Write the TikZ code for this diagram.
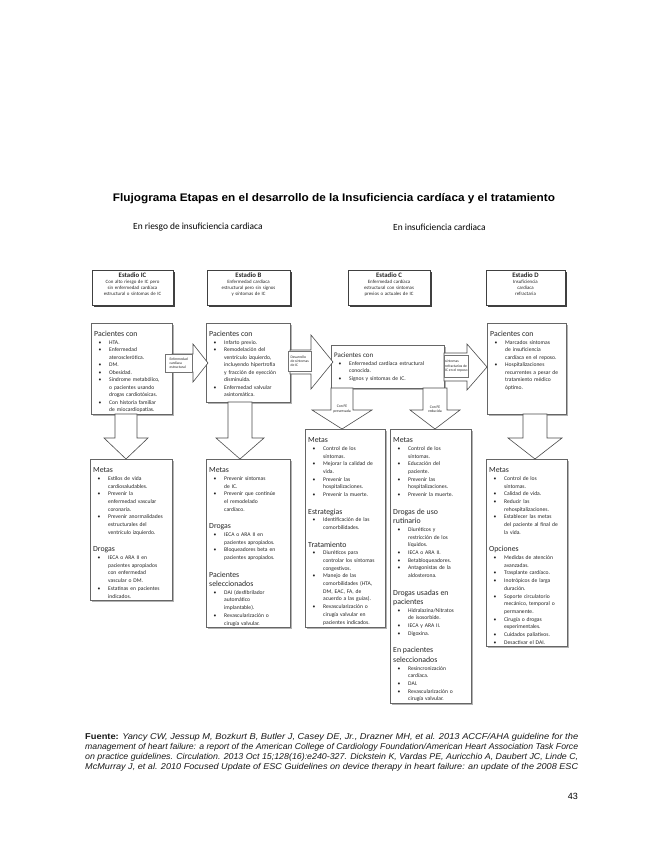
\documentclass[tikz,border=0pt]{standalone}
\usepackage{fontspec}
\setmainfont{Carlito}
\newfontfamily\arialf{Liberation Sans}
\usetikzlibrary{shadows}
\newlength\bulind\setlength\bulind{15pt}
\newlength\bulpos\setlength\bulpos{4.5pt}
\newcommand\bul[1]{\par\noindent\hangindent=\bulind\hangafter=1\makebox[\bulind][l]{\hspace{\bulpos}\textbullet}#1\par}
\newcommand\hd[1]{\par\noindent{\fontsize{7.8}{9.5}\selectfont #1\par}}
\newcommand\sgap{\par\vspace{8pt}}
\newcommand\harrow[6]{\draw[barrow] (#1,#2-#5) -- (#3,#2-#5) -- (#3,#2-#6) -- (#4,#2) -- (#3,#2+#6) -- (#3,#2+#5) -- (#1,#2+#5) -- cycle;}
\newcommand\varrow[6]{\draw[barrow] (#1-#5,#2) -- (#1-#5,#3) -- (#1-#6,#3) -- (#1,#4) -- (#1+#6,#3) -- (#1+#5,#3) -- (#1+#5,#2) -- cycle;}
\tikzset{
 stagebox/.style={draw=black!75, line width=0.6pt, fill=white, inner sep=0pt, anchor=north west, drop shadow={shadow xshift=1.6pt, shadow yshift=-1.6pt, fill=black!75, opacity=1}},
 panel/.style={draw=black!60, line width=0.6pt, fill=white, inner sep=0pt, anchor=north west, drop shadow={shadow xshift=1.4pt, shadow yshift=-1.4pt, fill=black!30, opacity=1}},
 barrow/.style={draw=black!70, line width=0.6pt, fill=white, line join=miter},
 bodytxt/.style={anchor=north west, inner sep=0pt, align=left, text=black!85, font=\fontsize{5.6}{7.7}\selectfont},
 pactxt/.style={bodytxt, font=\fontsize{5.6}{7.5}\selectfont},
 stagetxt/.style={anchor=north, inner sep=0pt, align=center, text=black!85, font=\fontsize{4.9}{5.9}\selectfont},
 lbl/.style={draw=black!55, fill=white, inner sep=1pt, anchor=north west, align=left, text=black!85, font=\fontsize{3.7}{4.3}\selectfont, drop shadow={shadow xshift=1pt, shadow yshift=-1pt, fill=black!40, opacity=1}},
 arrowlbl/.style={inner sep=0pt, align=center, text=black!85, font=\fontsize{3.8}{4.4}\selectfont},
 foottxt/.style={anchor=north west, inner sep=0pt, align=left, text=black!90, font=\arialf\fontsize{8.5}{10}\selectfont},
}
\begin{document}
\begin{tikzpicture}[x=1pt,y=-1pt]
\useasboundingbox (0,0) rectangle (655,848);
\fill[white] (0,0) rectangle (655,848);

% title and subtitles
\node[font=\arialf\bfseries\fontsize{11}{13}\selectfont] (title) at (334,199) {\resizebox{442pt}{\height}{Flujograma Etapas en el desarrollo de la Insuficiencia cardíaca y el tratamiento}};
\node[anchor=west, inner sep=0pt, font=\fontsize{9.4}{11}\selectfont] (sub1) at (133,227) {En riesgo de insuficiencia cardiaca};
\node[anchor=west, inner sep=0pt, font=\fontsize{9.4}{11}\selectfont] (sub2) at (393,227) {En insuficiencia cardiaca};

% stage boxes
\node[stagebox, minimum width=81pt, minimum height=35pt] (sA) at (92,270) {};
\node[stagetxt, text width=79pt] (tsA) at (132.5,272.5) {{\fontsize{6.8}{8}\selectfont\bfseries Estadio IC}\\Con alto riesgo de IC pero\\sin enfermedad cardíaca\\estructural o síntomas de IC};
\node[stagebox, minimum width=83pt, minimum height=35pt] (sB) at (207,270) {};
\node[stagetxt, text width=81pt] (tsB) at (248.5,272.5) {{\fontsize{6.8}{8}\selectfont\bfseries Estadio B}\\Enfermedad cardíaca\\estructural pero sin signos\\y síntomas de IC};
\node[stagebox, minimum width=82pt, minimum height=35pt] (sC) at (348,270) {};
\node[stagetxt, text width=80pt] (tsC) at (389,272.5) {{\fontsize{6.8}{8}\selectfont\bfseries Estadio C}\\Enfermedad cardíaca\\estructural con síntomas\\previos o actuales de IC};
\node[stagebox, minimum width=79pt, minimum height=35pt] (sD) at (486,270) {};
\node[stagetxt, text width=77pt] (tsD) at (525.5,272.5) {{\fontsize{6.8}{8}\selectfont\bfseries Estadio D}\\Insuficiencia\\cardíaca\\refractaria};

% patient boxes
\node[panel, minimum width=81pt, minimum height=91pt] (pA) at (91,323) {};
\node[pactxt, text width=78pt] (tpA) at (94,327) {\hd{Pacientes con}
\bul{HTA.}
\bul{Enfermedad\newline aterosclerótica.}
\bul{DM.}
\bul{Obesidad.}
\bul{Síndrome metabólico,\newline o pacientes usando\newline drogas cardiotóxicas.}
\bul{Con historia familiar\newline de miocardiopatías.}};

\node[panel, minimum width=84pt, minimum height=79pt] (pB) at (206,323) {};
\node[pactxt, text width=81pt] (tpB) at (209,327) {\hd{Pacientes con}
\bul{Infarto previo.}
\bul{Remodelación del\newline ventrículo izquierdo,\newline incluyendo hipertrofia\newline y fracción de eyección\newline disminuida.}
\bul{Enfermedad valvular\newline asintomática.}};

\node[panel, minimum width=113pt, minimum height=43pt] (pC) at (331,345) {};
\node[pactxt, text width=110pt] (tpC) at (334,349) {\par\noindent{\fontsize{7}{8.5}\selectfont Pacientes con\par}
\bul{Enfermedad cardíaca estructural\newline conocida.}
\bul{Signos y síntomas de IC.}};

\node[panel, minimum width=79pt, minimum height=91pt] (pD) at (487,323) {};
\node[pactxt, text width=76pt] (tpD) at (490,327) {\hd{Pacientes con}
\bul{Marcados síntomas\newline de insuficiencia\newline cardíaca en el reposo.}
\bul{Hospitalizaciones\newline recurrentes a pesar de\newline tratamiento médico\newline óptimo.}};

% horizontal block arrows
\harrow{172}{363}{193}{208}{9}{19}
\node[lbl, minimum width=27pt, minimum height=18pt] (lab1) at (165,354) {Enfermedad\\cardíaca\\estructural};
\harrow{290}{362}{311}{333}{12}{27}
\node[lbl, minimum width=23pt, minimum height=20pt] (lab2) at (288,351) {Desarrollo\\de síntomas\\de IC};
\harrow{444}{367}{467}{487}{14}{23}
\node[lbl, minimum width=24pt, minimum height=22pt] (lab3) at (444,355) {síntomas\\refractarios de\\IC en el reposo};

% vertical block arrows
\varrow{126}{414}{438}{459}{11}{22}
\varrow{240}{402}{438}{459}{12}{24}
\varrow{535}{414}{438}{459}{12}{27}
\varrow{342}{388}{410}{429}{11}{30}
\varrow{435}{388}{410}{429}{12}{25}
\node[arrowlbl] (labL) at (342,409) {Con FE\\preservada};
\node[arrowlbl] (labR) at (435,409) {Con FE\\reducida};

% goal boxes
\node[panel, minimum width=82pt, minimum height=141pt] (mA) at (90,459) {};
\node[bodytxt, text width=79pt] (tmA) at (93,463) {\hd{Metas}
\bul{Estilos de vida\newline cardiosaludables.}
\bul{Prevenir la\newline enfermedad vascular\newline coronaria.}
\bul{Prevenir anormalidades\newline estructurales del\newline ventrículo izquierdo.}
\sgap\hd{Drogas}
\bul{IECA o ARA II en\newline pacientes apropiados\newline con enfermedad\newline vascular o DM.}
\bul{Estatinas en pacientes\newline indicados.}};

\node[panel, minimum width=84pt, minimum height=168pt] (mB) at (206,459) {};
\node[bodytxt, text width=81pt] (tmB) at (209,463) {\hd{Metas}
\bul{Prevenir síntomas\newline de IC.}
\bul{Prevenir que continúe\newline el remodelado\newline cardíaco.}
\sgap\hd{Drogas}
\bul{IECA o ARA II en\newline pacientes apropiados.}
\bul{Bloqueadores beta en\newline pacientes apropiados.}
\sgap\hd{Pacientes\newline seleccionados}
\bul{DAI (desfibrilador\newline automático\newline implantable).}
\bul{Revascularización o\newline cirugía valvular.}};

\node[panel, minimum width=80pt, minimum height=198pt] (mCL) at (305,429) {};
\node[bodytxt, text width=77pt] (tmCL) at (308,433) {\hd{Metas}
\bul{Control de los\newline síntomas.}
\bul{Mejorar la calidad de\newline vida.}
\bul{Prevenir las\newline hospitalizaciones.}
\bul{Prevenir la muerte.}
\sgap\hd{Estrategias}
\bul{Identificación de las\newline comorbilidades.}
\sgap\hd{Tratamiento}
\bul{Diuréticos para\newline controlar los síntomas\newline congestivos.}
\bul{Manejo de las\newline comorbilidades (HTA,\newline DM, EAC, FA, de\newline acuerdo a las guías).}
\bul{Revascularización o\newline cirugía valvular en\newline pacientes indicados.}};

\node[panel, minimum width=81pt, minimum height=274pt] (mCR) at (390,429) {};
\node[bodytxt, text width=78pt] (tmCR) at (393,433) {\hd{Metas}
\bul{Control de los\newline síntomas.}
\bul{Educación del\newline paciente.}
\bul{Prevenir las\newline hospitalizaciones.}
\bul{Prevenir la muerte.}
\sgap\hd{Drogas de uso\newline rutinario}
\bul{Diuréticos y\newline restricción de los\newline líquidos.}
\bul{IECA o ARA II.}
\bul{Betabloqueadores.}
\bul{Antagonistas de la\newline aldosterona.}
\sgap\hd{Drogas usadas en\newline pacientes}
\bul{Hidralazina/Nitratos\newline de isosorbide.}
\bul{IECA y ARA II.}
\bul{Digoxina.}
\sgap\hd{En pacientes\newline seleccionados}
\bul{Resincronización\newline cardíaca.}
\bul{DAI.}
\bul{Revascularización o\newline cirugía valvular.}};

\node[panel, minimum width=81pt, minimum height=187pt] (mD) at (486,459) {};
\node[bodytxt, text width=78pt] (tmD) at (489,463) {\hd{Metas}
\bul{Control de los\newline síntomas.}
\bul{Calidad de vida.}
\bul{Reducir las\newline rehospitalizaciones.}
\bul{Establecer las metas\newline del paciente al final de\newline la vida.}
\sgap\hd{Opciones}
\bul{Medidas de atención\newline avanzadas.}
\bul{Trasplante cardíaco.}
\bul{Inotrópicos de larga\newline duración.}
\bul{Soporte circulatorio\newline mecánico, temporal o\newline permanente.}
\bul{Cirugía o drogas\newline experimentales.}
\bul{Cuidados paliativos.}
\bul{Desactivar el DAI.}};

% footer
\node[foottxt] (foot) at (85,733) {%
\resizebox{493pt}{\height}{\textbf{Fuente:} \itshape Yancy CW, Jessup M, Bozkurt B, Butler J, Casey DE, Jr., Drazner MH, et al. 2013 ACCF/AHA guideline for the}\\
\resizebox{493pt}{\height}{\itshape management of heart failure: a report of the American College of Cardiology Foundation/American Heart Association Task Force}\\
\resizebox{493pt}{\height}{\itshape on practice guidelines. Circulation. 2013 Oct 15;128(16):e240-327. Dickstein K, Vardas PE, Auricchio A, Daubert JC, Linde C,}\\
\resizebox{493pt}{\height}{\itshape McMurray J, et al. 2010 Focused Update of ESC Guidelines on device therapy in heart failure: an update of the 2008 ESC}};
\node[anchor=east, inner sep=0pt, font=\arialf\fontsize{9}{10}\selectfont] (pg) at (578,796) {43};
\end{tikzpicture}
\end{document}
